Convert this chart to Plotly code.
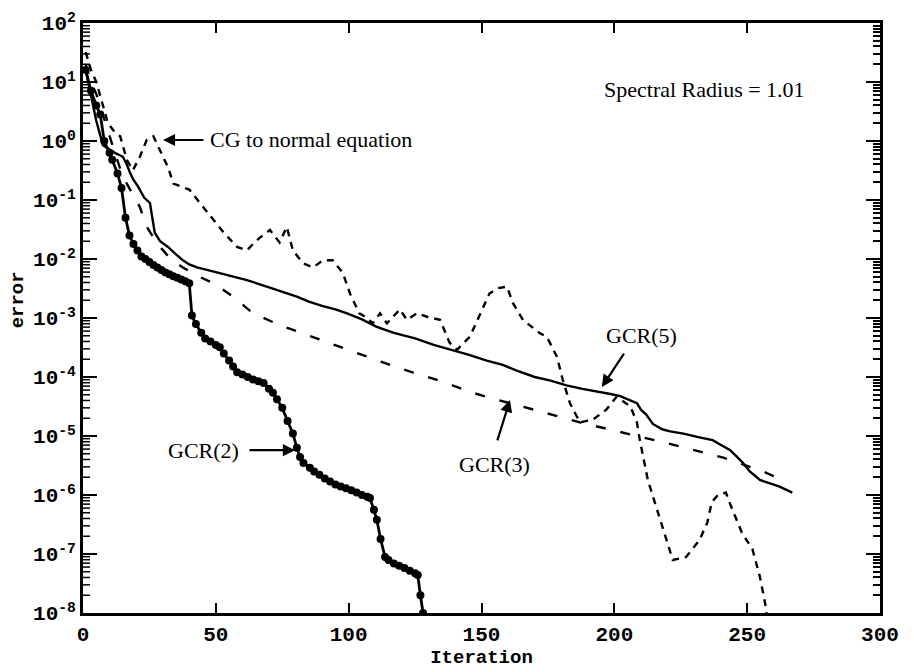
import numpy as np
import plotly.graph_objects as go

# ---------------- data ----------------
gcr2_x = [1, 3, 5, 6.5, 8, 10, 11, 13, 14.5, 16, 17.5, 19, 20.5, 22, 23.5, 25, 26.5, 28, 29.5,
          31, 32.5, 34, 35.5, 37, 38.5, 40, 41, 42.5, 44.5, 46, 48, 50, 51.5, 53, 55, 56.5, 58,
          60, 62, 64, 66, 68, 70, 71.5, 73, 75, 77, 79, 80.5, 81.7, 83, 85.4, 87, 89, 91, 93,
          95, 97, 99, 101, 103, 105, 107, 108, 109.5, 110.6, 112, 113.7, 115, 117, 119, 121,
          123, 125, 126, 127, 128]
gcr2_y = [1.6e1, 7.1e0, 4.0e0, 2.8e0, 1.0e0, 6.3e-1, 4.8e-1, 2.8e-1, 1.6e-1, 5.0e-2, 2.5e-2,
          1.8e-2, 1.4e-2, 1.1e-2, 1.0e-2, 8.9e-3, 7.9e-3, 7.2e-3, 6.5e-3, 5.9e-3, 5.5e-3,
          5.1e-3, 4.8e-3, 4.5e-3, 4.2e-3, 3.9e-3, 1.1e-3, 7.9e-4, 5.6e-4, 4.5e-4, 4.0e-4,
          3.5e-4, 3.2e-4, 2.5e-4, 1.9e-4, 1.5e-4, 1.2e-4, 1.1e-4, 1.0e-4, 9.1e-5, 8.5e-5,
          7.9e-5, 6.3e-5, 5.4e-5, 4.2e-5, 3.0e-5, 1.8e-5, 1.1e-5, 6.3e-6, 4.4e-6, 3.5e-6,
          2.9e-6, 2.5e-6, 2.2e-6, 1.9e-6, 1.7e-6, 1.5e-6, 1.4e-6, 1.3e-6, 1.2e-6, 1.1e-6,
          1.0e-6, 9.3e-7, 8.9e-7, 5.6e-7, 3.8e-7, 1.8e-7, 8.9e-8, 7.9e-8, 6.9e-8, 6.3e-8,
          5.8e-8, 5.2e-8, 4.7e-8, 4.4e-8, 2.0e-8, 1.0e-8]

gcr5_x = [1, 3, 5, 7.5, 10, 12, 15, 16.5, 17.7, 19, 20.7, 23, 25.2, 26, 27, 29, 32, 35, 37.6,
          40, 42.9, 50, 55, 61.7, 70, 75, 80.5, 85, 90, 95, 99.4, 105, 110.6, 117, 125, 132,
          139, 145, 152, 158, 163, 170, 176, 182, 188, 193, 198, 202, 206, 208.5, 210, 212,
          214.5, 218, 221, 226, 232, 237, 240, 243.5, 246, 248.4, 251, 254.8, 258, 262, 267]
gcr5_y = [1.6e1, 6.3e0, 2.2e0, 8.5e-1, 7.1e-1, 6.3e-1, 5.4e-1, 4.0e-1, 2.9e-1, 2.2e-1,
          1.7e-1, 1.1e-1, 8.9e-2, 5.0e-2, 2.8e-2, 2.0e-2, 1.6e-2, 1.2e-2, 9.5e-3, 8.1e-3,
          7.2e-3, 6.0e-3, 5.2e-3, 4.4e-3, 3.3e-3, 2.8e-3, 2.3e-3, 1.9e-3, 1.6e-3, 1.4e-3,
          1.2e-3, 9.5e-4, 7.1e-4, 5.6e-4, 4.5e-4, 3.5e-4, 2.9e-4, 2.4e-4, 1.9e-4, 1.6e-4,
          1.3e-4, 1.0e-4, 8.7e-5, 7.2e-5, 6.3e-5, 5.8e-5, 5.2e-5, 4.8e-5, 4.0e-5, 3.6e-5,
          2.8e-5, 2.3e-5, 1.6e-5, 1.3e-5, 1.2e-5, 1.1e-5, 9.5e-6, 8.5e-6, 7.1e-6, 5.8e-6,
          4.5e-6, 3.5e-6, 2.5e-6, 1.8e-6, 1.6e-6, 1.4e-6, 1.1e-6]

gcr3_x = [1, 3, 5, 7, 9, 12, 15, 18, 21.4, 24, 28, 33, 37.6, 43, 49, 56.5, 64, 74, 84, 94, 104,
          114, 124, 135.5, 145.6, 155, 165, 177, 187, 198, 209, 219.6, 229.7, 241, 251, 256, 262]
gcr3_y = [2.0e1, 1.0e1, 6.3e0, 3.2e0, 1.6e0, 6.3e-1, 2.5e-1, 1.4e-1, 7.6e-2, 3.5e-2,
          1.8e-2, 1.0e-2, 7.2e-3, 5.2e-3, 3.9e-3, 2.3e-3, 1.2e-3, 7.6e-4, 5.2e-4, 3.6e-4,
          2.5e-4, 1.7e-4, 1.2e-4, 8.3e-5, 5.6e-5, 4.2e-5, 3.2e-5, 2.3e-5, 1.7e-5, 1.3e-5,
          1.0e-5, 7.6e-6, 5.8e-6, 4.3e-6, 3.0e-6, 2.5e-6, 1.9e-6]

cg_x = [1, 3, 5, 7, 9.4, 12, 14, 16.5, 18.8, 21.4, 24, 26.5, 28, 30, 32, 34, 37, 40, 44, 49, 53,
        58, 61.7, 64, 66.6, 70.4, 74, 76.7, 79, 82.8, 86.6, 90.3, 94, 97.8, 100.5, 104, 107,
        109, 111.8, 114.4, 117, 119.3, 121.9, 125.7, 129.5, 134.4, 138, 140.8, 145.6, 150.5,
        153, 156, 159.6, 161.8, 165.6, 172, 174.6, 178.4, 180.6, 183.3, 187, 192, 197, 200.8,
        206, 208.5, 209.6, 212.6, 217, 222, 227, 232, 235, 236.7, 239, 242, 243.5, 248, 252,
        254.8, 256.7, 257.3]
cg_y = [3.2e1, 1.6e1, 1.0e1, 5.0e0, 2.0e0, 1.4e0, 1.2e0, 4.8e-1, 3.2e-1, 5.4e-1, 1.05e0,
        1.2e0, 8.5e-1, 5.6e-1, 3.6e-1, 1.9e-1, 1.7e-1, 1.5e-1, 8.9e-2, 4.6e-2, 2.8e-2,
        1.6e-2, 1.4e-2, 1.8e-2, 2.3e-2, 3.1e-2, 1.9e-2, 3.5e-2, 1.4e-2, 8.5e-3, 7.2e-3,
        9.5e-3, 9.5e-3, 5.8e-3, 2.6e-3, 1.2e-3, 1.0e-3, 8.1e-4, 1.2e-3, 8.1e-4, 1.1e-3,
        1.4e-3, 9.3e-4, 1.2e-3, 1.05e-3, 9.3e-4, 3.8e-4, 2.9e-4, 4.8e-4, 1.5e-3, 2.6e-3,
        3.2e-3, 3.4e-3, 1.8e-3, 9.3e-4, 5.5e-4, 4.8e-4, 2.2e-4, 8.9e-5, 3.6e-5, 1.7e-5,
        1.9e-5, 2.8e-5, 4.6e-5, 3.2e-5, 1.7e-5, 8.5e-6, 1.8e-6, 4.3e-7, 7.9e-8, 8.9e-8,
        1.7e-7, 3.4e-7, 7.6e-7, 1.0e-6, 1.1e-6, 7.2e-7, 2.3e-7, 1.2e-7, 4.1e-8, 1.5e-8,
        1.0e-8]

ytick_vals = [1e2, 1e1, 1e0, 1e-1, 1e-2, 1e-3, 1e-4, 1e-5, 1e-6, 1e-7, 1e-8]
ytick_text = ["10<sup>2</sup>", "10<sup>1</sup>", "10<sup>0</sup>", "10<sup>-1</sup>",
              "10<sup>-2</sup>", "10<sup>-3</sup>", "10<sup>-4</sup>", "10<sup>-5</sup>",
              "10<sup>-6</sup>", "10<sup>-7</sup>", "10<sup>-8</sup>"]
xtick_vals = [0, 50, 100, 150, 200, 250, 300]
ytick_minor = [k * 10.0 ** e for e in range(-8, 2) for k in range(2, 10)]

# ---------------- figure ----------------
fig = go.Figure()
fig.add_trace(go.Scatter(x=cg_x, y=cg_y, mode="lines", name="CG to normal equation",
                         line=dict(color="black", width=2.4, dash="7px,6px")))
fig.add_trace(go.Scatter(x=gcr3_x, y=gcr3_y, mode="lines", name="GCR(3)",
                         line=dict(color="black", width=2.4, dash="10px,15px")))
fig.add_trace(go.Scatter(x=gcr5_x, y=gcr5_y, mode="lines", name="GCR(5)",
                         line=dict(color="black", width=2.4)))
fig.add_trace(go.Scatter(x=gcr2_x, y=gcr2_y, mode="lines+markers", name="GCR(2)",
                         line=dict(color="black", width=2.8),
                         marker=dict(color="black", size=8, symbol="circle")))

# left-side minor tick marks, drawn as short segments through the axes' own scales
tick_len_x = 300 * 7 / 797
mx, my = [], []
for v in ytick_minor:
    mx += [0, tick_len_x, None]
    my += [v, v, None]
fig.add_trace(go.Scatter(x=mx, y=my, mode="lines", showlegend=False, hoverinfo="skip",
                         line=dict(color="black", width=1.5)))

# invisible helper so the right minor-tick axis is drawn
fig.add_trace(go.Scatter(x=[None], y=[None], yaxis="y2", showlegend=False, hoverinfo="skip"))

tickfont = dict(family="Liberation Mono", size=21, color="black", weight="bold")
annfont = dict(family="Liberation Serif", size=22, color="black")

fig.update_layout(
    width=914, height=672,
    margin=dict(l=75, r=42, t=15, b=67),
    paper_bgcolor="white", plot_bgcolor="white",
    showlegend=False,
    xaxis=dict(range=[0, 300], tickvals=xtick_vals, ticks="inside", ticklen=10, tickwidth=1.8,
               tickcolor="black", showline=True, linecolor="black", linewidth=2.8,
               mirror="ticks", showgrid=False, zeroline=False, tickfont=tickfont,
               automargin=False,
               title=dict(text="Iteration", font=dict(family="Liberation Mono", size=19,
                                                       color="black", weight="bold"),
                          standoff=0)),
    yaxis=dict(type="log", range=[-8, 2], tickvals=ytick_vals, ticktext=ytick_text,
               ticks="inside", ticklen=14, tickwidth=1.8, tickcolor="black",
               showline=True, linecolor="black", linewidth=2.8, mirror="ticks",
               showgrid=False, zeroline=False, tickfont=tickfont, automargin=False),
    yaxis2=dict(side="right", type="log", range=[-8, 2], overlaying="y", tickmode="array",
                tickvals=ytick_minor, ticks="inside", ticklen=7, tickwidth=1.5,
                tickcolor="black", showticklabels=False, showgrid=False, zeroline=False,
                showline=False, automargin=False, fixedrange=True),
)

anns = [
    dict(x=-0.0815, y=0.53, xref="paper", yref="paper", text="<b>error</b>", textangle=-90,
         xanchor="center", yanchor="middle", showarrow=False,
         font=dict(family="Liberation Mono", size=19, color="black")),
    dict(x=234, y=0.88, text="Spectral Radius = 1.01", showarrow=False, font=annfont),
    dict(x=47, y=0.02, text="CG to normal equation", xanchor="left", showarrow=False,
         font=annfont),
    dict(x=210.4, y=-3.29, text="GCR(5)", showarrow=False, font=annfont),
    dict(x=155, y=-5.49, text="GCR(3)", showarrow=False, font=annfont),
    dict(x=45.2, y=-5.24, text="GCR(2)", showarrow=False, font=annfont),
]
arrows = [
    (30.1, 0.017, 45.9, 0.017),
    (195.3, -4.17, 204, -3.58),
    (160.7, -4.39, 155.8, -5.1),
    (79.8, -5.24, 62.1, -5.24),
]
for x, y, ax, ay in arrows:
    anns.append(dict(x=x, y=y, ax=ax, ay=ay, axref="x", ayref="y", xref="x", yref="y",
                     text="", showarrow=True, arrowhead=2, arrowsize=1.1, arrowwidth=2.2,
                     arrowcolor="black"))
fig.update_layout(annotations=anns)

fig.write_html("out.html")
